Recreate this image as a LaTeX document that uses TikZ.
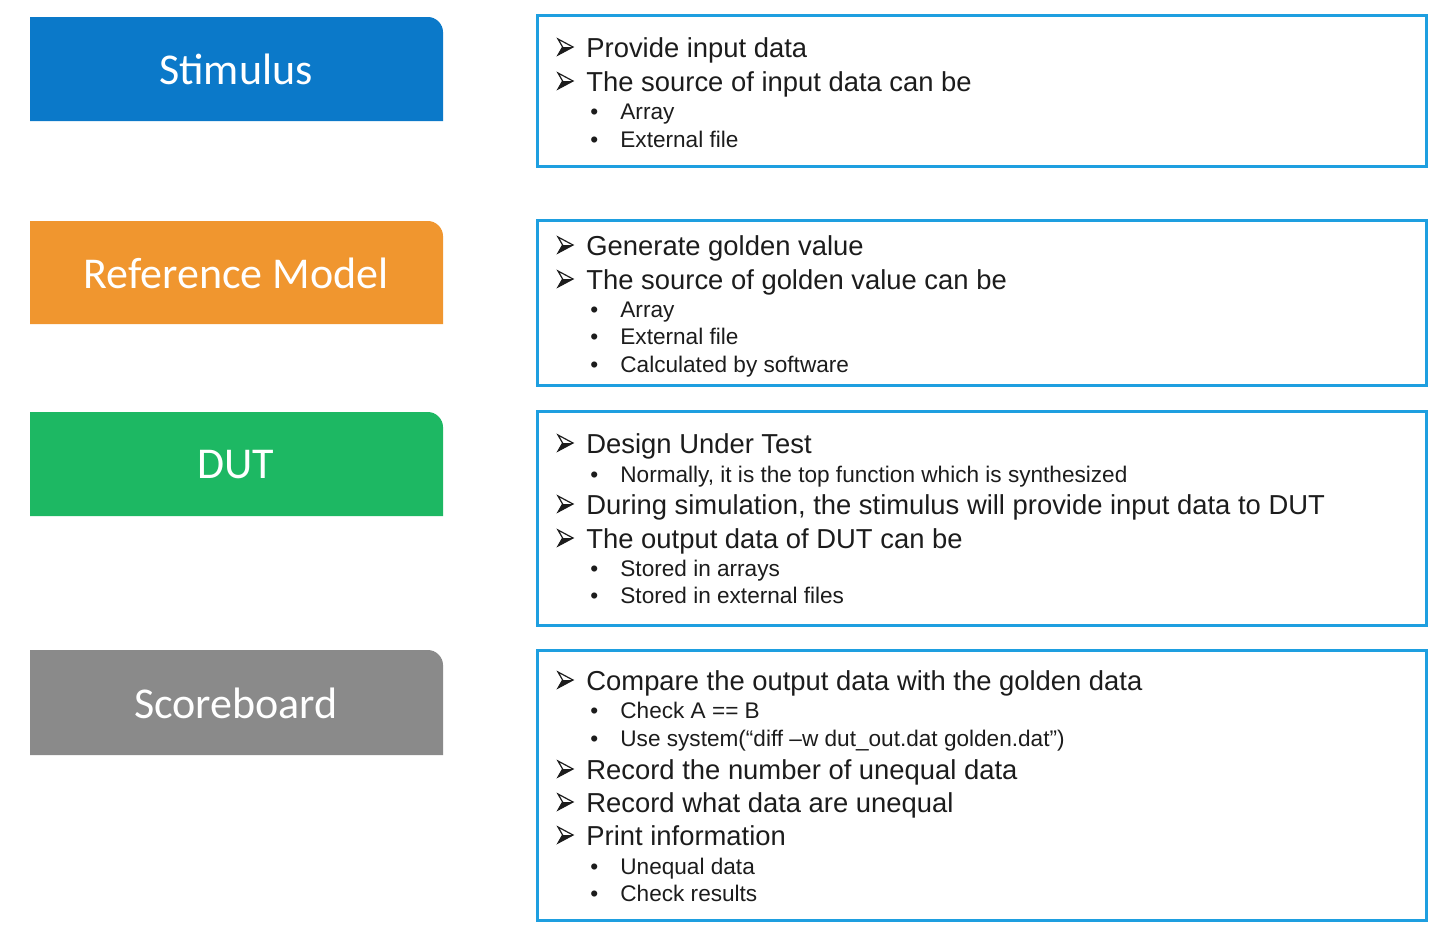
\documentclass[tikz,border=0pt]{standalone}
\usepackage{fontspec}
\setmainfont{Liberation Sans}
\newfontfamily\labelfont{Carlito}

\definecolor{stimblue}{HTML}{0B79C9}
\definecolor{reforange}{HTML}{F0962F}
\definecolor{dutgreen}{HTML}{1DB863}
\definecolor{scoregray}{HTML}{8A8A8A}
\definecolor{framecyan}{HTML}{1E9FE0}
\definecolor{textgray}{HTML}{1C1C1C}

% arrowhead bullet and dot bullet
\newcommand{\arrowbul}{\makebox[14.5pt][l]{\tikz[x=1pt,y=1pt,baseline=0pt]{
    \fill[textgray] (0,1) -- (7.5,5) -- (2.3,5) -- cycle;
    \draw[textgray,line width=0.6pt,line join=miter] (0,9) -- (7.5,5) -- (0,1) -- (2.3,5) -- cycle;}}}
\newcommand{\dotbul}{\makebox[15pt][l]{•}}

\tikzset{
  boxlabel/.style={text=white,font=\labelfont\fontsize{22}{24}\selectfont,inner sep=0pt},
  infoframe/.style={draw=framecyan,line width=1.5pt},
  mainline/.style={anchor=base west,inner sep=0pt,text=textgray,font=\fontsize{13.7}{16}\selectfont},
  subline/.style={anchor=base west,inner sep=0pt,text=textgray,font=\fontsize{11.3}{13}\selectfont}
}

\begin{document}
\begin{tikzpicture}[x=0.5pt,y=-0.5pt]
    \useasboundingbox (0,0) rectangle (1444,932);

    % Left boxes
    \fill[stimblue] (30,121) -- (30,17) -- (428,17) .. controls (436,17) and (443,24) .. (443,32) -- (443,121) -- cycle;
    \fill[reforange] (30,324) -- (30,221) -- (428,221) .. controls (436,221) and (443,228) .. (443,236) -- (443,324) -- cycle;
    \fill[dutgreen] (30,516) -- (30,412) -- (428,412) .. controls (436,412) and (443,419) .. (443,427) -- (443,516) -- cycle;
    \fill[scoregray] (30,755) -- (30,650) -- (428,650) .. controls (436,650) and (443,657) .. (443,665) -- (443,755) -- cycle;

    \node[boxlabel] (stim) at (236,69) {Stimulus};
    \node[boxlabel] (refm) at (236,273) {Reference Model};
    \node[boxlabel] (dut) at (236,465) {DUT};
    \node[boxlabel] (score) at (236,703) {Scoreboard};

    % Right frames
    \draw[infoframe] (537,15) rectangle (1426,166);
    \draw[infoframe] (537,220) rectangle (1426,385);
    \draw[infoframe] (537,411) rectangle (1426,625);
    \draw[infoframe] (537,650) rectangle (1426,920);

    % Stimulus text
    \node[mainline] (s1) at (557,57) {\arrowbul Provide input data};
    \node[mainline] (s2) at (557,91) {\arrowbul The source of input data can be};
    \node[subline] (s3) at (590,119) {\dotbul Array};
    \node[subline] (s4) at (590,147) {\dotbul External file};

    % Reference model text
    \node[mainline] (r1) at (557,255) {\arrowbul Generate golden value};
    \node[mainline] (r2) at (557,289) {\arrowbul The source of golden value can be};
    \node[subline] (r3) at (590,317) {\dotbul Array};
    \node[subline] (r4) at (590,344) {\dotbul External file};
    \node[subline] (r5) at (590,372) {\dotbul Calculated by software};

    % DUT text
    \node[mainline] (d1) at (557,453) {\arrowbul Design Under Test};
    \node[subline] (d2) at (590,482) {\dotbul Normally, it is the top function which is synthesized};
    \node[mainline] (d3) at (557,514) {\arrowbul During simulation, the stimulus will provide input data to DUT};
    \node[mainline] (d4) at (557,548) {\arrowbul The output data of DUT can be};
    \node[subline] (d5) at (590,576) {\dotbul Stored in arrays};
    \node[subline] (d6) at (590,603) {\dotbul Stored in external files};

    % Scoreboard text
    \node[mainline] (c1) at (557,690) {\arrowbul Compare the output data with the golden data};
    \node[subline] (c2) at (590,718) {\dotbul Check A == B};
    \node[subline] (c3) at (590,746) {\dotbul Use system(“diff –w dut\_out.dat golden.dat”)};
    \node[mainline] (c4) at (557,779) {\arrowbul Record the number of unequal data};
    \node[mainline] (c5) at (557,812) {\arrowbul Record what data are unequal};
    \node[mainline] (c6) at (557,845) {\arrowbul Print information};
    \node[subline] (c7) at (590,874) {\dotbul Unequal data};
    \node[subline] (c8) at (590,901) {\dotbul Check results};
\end{tikzpicture}
\end{document}
